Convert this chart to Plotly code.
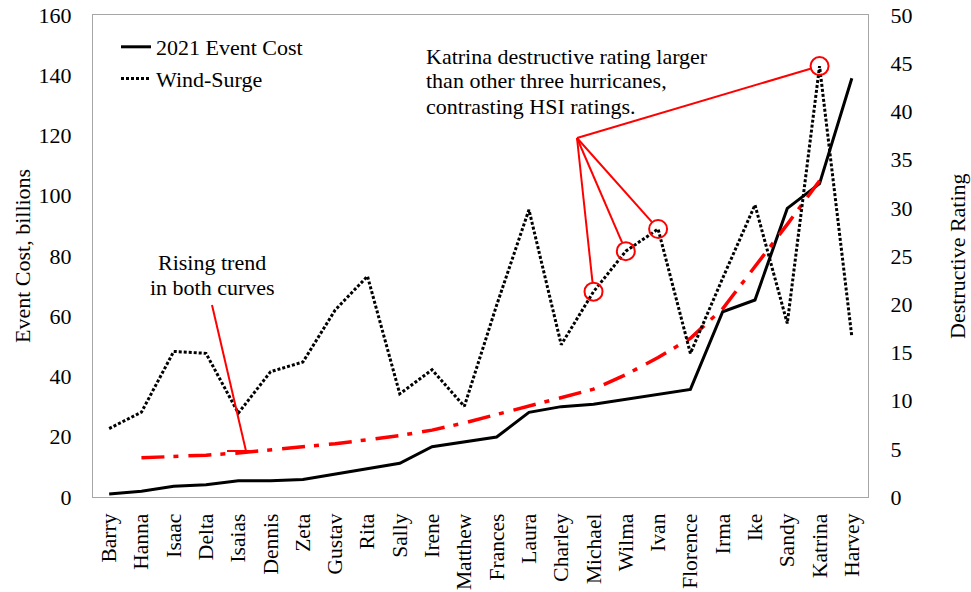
import plotly.graph_objects as go

# ---------------- data ----------------
hurricanes = ["Barry", "Hanna", "Isaac", "Delta", "Isaias", "Dennis", "Zeta", "Gustav",
              "Rita", "Sally", "Irene", "Matthew", "Frances", "Laura", "Charley", "Michael",
              "Wilma", "Ivan", "Florence", "Irma", "Ike", "Sandy", "Katrina", "Harvey"]
event_cost = [1.0, 1.9, 3.6, 4.1, 5.4, 5.4, 5.8, 7.6, 9.3, 11.2, 16.7, 18.4,
              19.9, 28.1, 30.0, 30.8, 32.5, 34.2, 35.7, 61.5, 65.4, 95.8, 104.0, 139.0]
wind_surge = [7.1, 8.8, 15.1, 14.9, 8.7, 13.0, 14.0, 19.4, 22.9, 10.7, 13.2, 9.4,
              19.9, 29.8, 15.8, 21.3, 25.5, 27.8, 14.9, 22.7, 30.3, 18.0, 44.7, 16.6]
trend = [None, 13.0, 13.4, 13.9, 14.6, 15.6, 16.6, 17.7, 19.0, 20.4, 22.2, 24.6,
         27.4, 30.1, 32.9, 35.8, 40.6, 46.3, 52.7, 62.5, 76.5, 90.5, 105.0, None]
highlighted = ["Michael", "Wilma", "Ivan", "Katrina"]
left_ticks = [0, 20, 40, 60, 80, 100, 120, 140, 160]
right_ticks = [0, 5, 10, 15, 20, 25, 30, 35, 40, 45, 50]

hl_values = [wind_surge[hurricanes.index(h)] for h in highlighted]

# ---------------- geometry (pixels) ----------------
W, H = 971, 592
L, R, T, B = 93, 868, 15, 497
FONT = "Liberation Serif, Times New Roman, serif"
RED = "#ff0000"


def px_x(i):
    return L + (i + 0.5) * (R - L) / len(hurricanes)


def px_y2(v):
    return B - v * (B - T) / 50.0


def pxp(x):
    return (x - L) / (R - L)


def pyp(y):
    return (B - y) / (B - T)


fig = go.Figure()

fig.add_trace(go.Scatter(
    x=hurricanes, y=event_cost, mode="lines", name="2021 Event Cost",
    line=dict(color="black", width=3), legendgroup="a"))
fig.add_trace(go.Scatter(
    x=hurricanes, y=wind_surge, mode="lines", name="Wind-Surge", yaxis="y2",
    line=dict(color="black", width=3, dash="3px,2px"), legendgroup="b"))
fig.add_trace(go.Scatter(
    x=hurricanes, y=trend, mode="lines", showlegend=False,
    line=dict(color=RED, width=3.5, dash="23px,9px,5px,10px")))
fig.add_trace(go.Scatter(
    x=highlighted, y=hl_values, mode="markers", yaxis="y2", showlegend=False,
    marker=dict(symbol="circle-open", size=18, color=RED, line=dict(color=RED, width=2))))

shapes = []
# callout lines from hub to the circled points
hub = (577, 138)
rad = 9.5
for h, v in zip(highlighted, hl_values):
    cx, cy = px_x(hurricanes.index(h)), px_y2(v)
    dx, dy = hub[0] - cx, hub[1] - cy
    d = (dx * dx + dy * dy) ** 0.5
    ex, ey = cx + dx / d * rad, cy + dy / d * rad
    shapes.append(dict(type="line", xref="paper", yref="paper",
                       x0=pxp(hub[0]), y0=pyp(hub[1]), x1=pxp(ex), y1=pyp(ey),
                       line=dict(color=RED, width=2)))
# rising trend pointer
shapes.append(dict(type="line", xref="paper", yref="paper",
                   x0=pxp(212), y0=pyp(305), x1=pxp(246), y1=pyp(451),
                   line=dict(color=RED, width=2)))
shapes.append(dict(type="line", xref="paper", yref="paper",
                   x0=pxp(227), y0=pyp(451), x1=pxp(250), y1=pyp(451),
                   line=dict(color=RED, width=2)))

annotations = []
for txt, y in [("Katrina destructive rating larger", 56),
               ("than other three hurricanes,", 81),
               ("contrasting HSI ratings.", 106)]:
    annotations.append(dict(text=txt, xref="paper", yref="paper", x=pxp(424), y=pyp(y),
                            xanchor="left", yanchor="middle", showarrow=False,
                            font=dict(family=FONT, size=22, color="black")))
for txt, y in [("Rising trend", 262), ("in both curves", 287)]:
    annotations.append(dict(text=txt, xref="paper", yref="paper", x=pxp(212), y=pyp(y),
                            xanchor="center", yanchor="middle", showarrow=False,
                            font=dict(family=FONT, size=22, color="black")))
annotations.append(dict(text="Event Cost, billions", xref="paper", yref="paper",
                        x=pxp(22), y=pyp(256), textangle=-90, showarrow=False,
                        xanchor="center", yanchor="middle",
                        font=dict(family=FONT, size=22, color="black")))
annotations.append(dict(text="Destructive Rating", xref="paper", yref="paper",
                        x=pxp(957), y=pyp(256), textangle=-90, showarrow=False,
                        xanchor="center", yanchor="middle",
                        font=dict(family=FONT, size=22, color="black")))

frame = "#a6a6a6"
fig.update_layout(
    width=W, height=H,
    margin=dict(l=L, r=W - R, t=T, b=H - B, autoexpand=False),
    paper_bgcolor="white", plot_bgcolor="white",
    font=dict(family=FONT, size=22, color="black"),
    xaxis=dict(type="category", categoryorder="array", categoryarray=hurricanes,
               range=[-0.5, len(hurricanes) - 0.5], tickangle=-90, showgrid=False,
               showline=True, linecolor=frame, linewidth=1, mirror=True, ticks="",
               ticklabelstandoff=7, automargin=False,
               tickfont=dict(family=FONT, size=21.5, color="black")),
    yaxis=dict(range=[0, 160], tickvals=left_ticks, showgrid=False, zeroline=False,
               showline=True, linecolor=frame, linewidth=1, ticks="",
               ticklabelstandoff=16, automargin=False,
               tickfont=dict(family=FONT, size=22, color="black")),
    yaxis2=dict(range=[0, 50], tickvals=right_ticks, overlaying="y", side="right",
                showgrid=False, zeroline=False, showline=True, linecolor=frame,
                linewidth=1, ticks="", ticklabelstandoff=17, automargin=False,
                tickfont=dict(family=FONT, size=22, color="black")),
    showlegend=True,
    legend=dict(x=pxp(116), y=pyp(26), xanchor="left", yanchor="top",
                bgcolor="rgba(0,0,0,0)", traceorder="grouped", tracegroupgap=0,
                font=dict(family=FONT, size=22, color="black"),
                itemwidth=30, borderwidth=0),
    shapes=shapes, annotations=annotations,
)

fig.write_html("out.html", config={"displayModeBar": False},
               post_script="document.body.style.margin='0';document.body.style.overflow='hidden';")
